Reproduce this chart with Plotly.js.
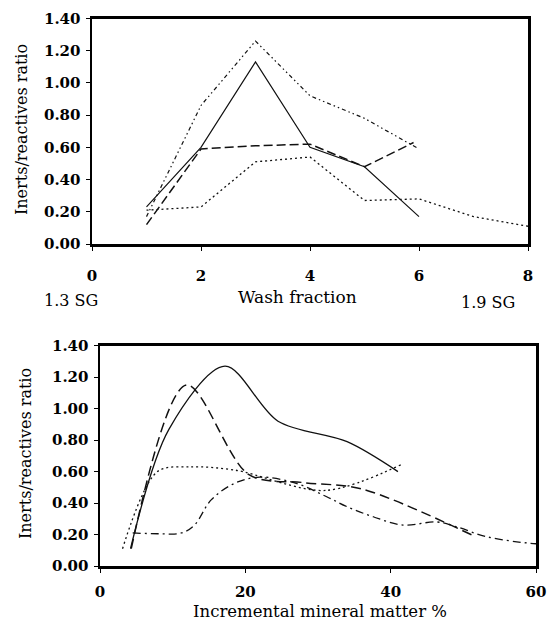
<!DOCTYPE html>
<html>
<head>
<meta charset="utf-8">
<script src="https://cdn.plot.ly/plotly-3.0.1.min.js"></script>
<style>html,body{margin:0;padding:0;background:#fff;}#chart{width:547px;height:620px;}</style>
</head>
<body>
<div id="chart"></div>
<script>
// ---- Top chart: wash fraction ----
const washFraction = [1, 2, 3, 4, 5, 6];
const topSolid = [0.23, 0.60, 1.13, 0.60, 0.48, 0.17];
const washFractionDash = [1, 2, 3, 4, 5, 5.9];
const topDash = [0.12, 0.59, 0.61, 0.62, 0.48, 0.63];
const topDashDot = [0.17, 0.86, 1.26, 0.92, 0.78, 0.59];
const washFractionDot = [1, 2, 3, 4, 5, 6, 7, 8];
const topDot = [0.21, 0.23, 0.51, 0.54, 0.27, 0.28, 0.17, 0.11];

// ---- Bottom chart: incremental mineral matter % ----
const mmSolid = [4.2, 9.5, 17.2, 24.5, 34, 41];
const botSolid = [0.11, 0.87, 1.27, 0.92, 0.79, 0.60];
const mmDash = [4.3, 11.9, 20.5, 28, 36, 51.5];
const botDash = [0.11, 1.15, 0.58, 0.53, 0.49, 0.19];
const mmDot = [3.1, 7.9, 12.5, 18.5, 31, 41.7];
const botDot = [0.11, 0.60, 0.63, 0.61, 0.48, 0.65];
const mmDashDot = [4.5, 8, 11.2, 13, 15.3, 18.5, 22, 27, 31.2, 34, 37.6, 41.7, 46.3, 49, 53.2, 59.2, 61];
const botDashDot = [0.21, 0.205, 0.21, 0.26, 0.42, 0.525, 0.565, 0.525, 0.44, 0.377, 0.313, 0.26, 0.28, 0.25, 0.186, 0.144, 0.14];

const yTicks = [0, 0.2, 0.4, 0.6, 0.8, 1.0, 1.2, 1.4];
const yTickText = ['0.00', '0.20', '0.40', '0.60', '0.80', '1.00', '1.20', '1.40'];
const topXTicks = [0, 2, 4, 6, 8];
const botXTicks = [0, 20, 40, 60];

const W = 547, H = 620;
const serif = 'DejaVu Serif, Liberation Serif, serif';
const tickFont = {family: serif, size: 15, color: '#000', weight: 'bold'};
const black = '#111';

function line(x, y, xa, ya, dash, width, shape, smoothing) {
  return {x: x, y: y, xaxis: xa, yaxis: ya, type: 'scatter', mode: 'lines',
    line: {color: black, width: width, dash: dash, shape: shape || 'linear', smoothing: smoothing || 0.9},
    hoverinfo: 'skip', showlegend: false};
}

const data = [
  line(washFraction, topSolid, 'x', 'y', 'solid', 1.2),
  line(washFractionDash, topDash, 'x', 'y', '9px,4px', 1.5),
  line(washFraction, topDashDot, 'x', 'y', '4px,3px,1.5px,3px,1.5px,3px', 1.2),
  line(washFractionDot, topDot, 'x', 'y', '2px,3px', 1.3),
  line(mmSolid, botSolid, 'x2', 'y2', 'solid', 1.3, 'spline'),
  line(mmDash, botDash, 'x2', 'y2', '10px,5px', 1.5, 'spline'),
  line(mmDot, botDot, 'x2', 'y2', '2px,3px', 1.3, 'spline'),
  line(mmDashDot, botDashDot, 'x2', 'y2', '8px,4px,2px,4px', 1.3, 'spline', 1)
];

function px2x(px) { return px / W; }
function py2y(py) { return 1 - py / H; }

const axisCommon = {
  showgrid: false, zeroline: false, showline: true, mirror: true,
  linecolor: '#000', linewidth: 2.5, ticks: 'outside', ticklen: 4, tickwidth: 1,
  tickcolor: '#000', tickfont: tickFont, fixedrange: true
};

const titleFont = {family: serif, size: 16, color: '#000'};
function note(text, px, py, angle, size) {
  return {text: text, x: px2x(px), y: py2y(py), xref: 'paper', yref: 'paper',
    xanchor: 'center', yanchor: 'middle', showarrow: false, textangle: angle || 0,
    font: Object.assign({}, titleFont, size ? {size: size} : {})};
}

const layout = {
  width: W, height: H,
  margin: {l: 0, r: 0, t: 0, b: 0},
  paper_bgcolor: '#fff', plot_bgcolor: '#fff',
  showlegend: false,
  xaxis: Object.assign({}, axisCommon, {
    domain: [px2x(92), px2x(528)], range: [0, 8], tickvals: topXTicks,
    anchor: 'y', ticklabelstandoff: 12
  }),
  yaxis: Object.assign({}, axisCommon, {
    domain: [py2y(244), py2y(18.5)], range: [0, 1.4], tickvals: yTicks,
    ticktext: yTickText, anchor: 'x', ticklabelstandoff: 2
  }),
  xaxis2: Object.assign({}, axisCommon, {
    domain: [px2x(100), px2x(536)], range: [0, 60], tickvals: botXTicks,
    anchor: 'y2', ticklabelstandoff: 6
  }),
  yaxis2: Object.assign({}, axisCommon, {
    domain: [py2y(566), py2y(345.7)], range: [0, 1.4], tickvals: yTicks,
    ticktext: yTickText, anchor: 'x2', ticklabelstandoff: 2
  }),
  annotations: [
    note('Wash fraction', 297, 297, 0, 17),
    note('1.3 SG', 71, 300),
    note('1.9 SG', 488, 302),
    note('Inerts/reactives ratio', 21, 130, -90),
    note('Incremental mineral matter %', 320, 611.5, 0, 16.5),
    note('Inerts/reactives ratio', 25, 454, -90)
  ]
};

Plotly.newPlot('chart', data, layout, {staticPlot: true, displayModeBar: false});
</script>
</body>
</html>
